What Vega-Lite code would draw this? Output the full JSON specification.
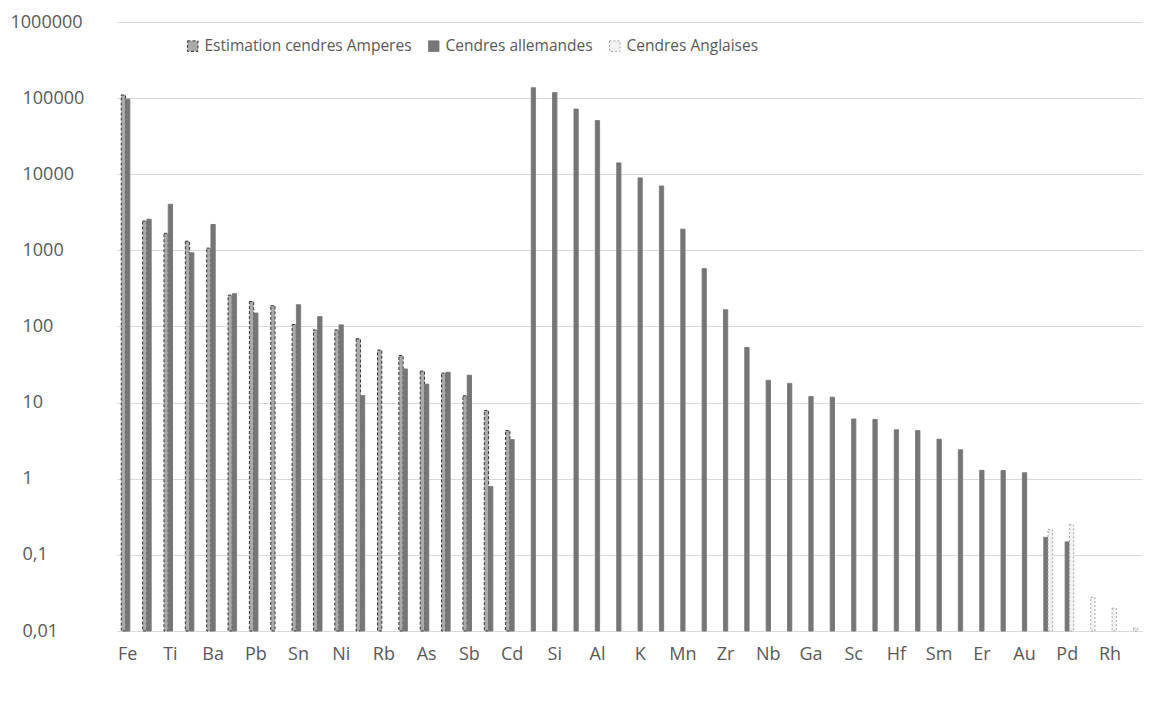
{
  "$schema": "https://vega.github.io/schema/vega-lite/v6.json",
  "width": 1025,
  "height": 609,
  "autosize": "none",
  "padding": {"left": 117, "top": 22, "right": 13, "bottom": 80},
  "background": "white",
  "config": {"view": {"stroke": null}, "font": "Open Sans"},
  "data": {"values": [
    {"el": "Fe", "s": "Estimation cendres Amperes", "v": 110000},
    {"el": "Fe", "s": "Cendres allemandes", "v": 97000},
    {"el": "Zn", "s": "Estimation cendres Amperes", "v": 2430},
    {"el": "Zn", "s": "Cendres allemandes", "v": 2570},
    {"el": "Ti", "s": "Estimation cendres Amperes", "v": 1675},
    {"el": "Ti", "s": "Cendres allemandes", "v": 4030},
    {"el": "Cu", "s": "Estimation cendres Amperes", "v": 1320},
    {"el": "Cu", "s": "Cendres allemandes", "v": 930},
    {"el": "Ba", "s": "Estimation cendres Amperes", "v": 1070},
    {"el": "Ba", "s": "Cendres allemandes", "v": 2190},
    {"el": "Cr", "s": "Estimation cendres Amperes", "v": 258},
    {"el": "Cr", "s": "Cendres allemandes", "v": 270},
    {"el": "Pb", "s": "Estimation cendres Amperes", "v": 213},
    {"el": "Pb", "s": "Cendres allemandes", "v": 150},
    {"el": "Sr", "s": "Estimation cendres Amperes", "v": 188},
    {"el": "Sn", "s": "Estimation cendres Amperes", "v": 106},
    {"el": "Sn", "s": "Cendres allemandes", "v": 193},
    {"el": "V", "s": "Estimation cendres Amperes", "v": 90},
    {"el": "V", "s": "Cendres allemandes", "v": 135},
    {"el": "Ni", "s": "Estimation cendres Amperes", "v": 90},
    {"el": "Ni", "s": "Cendres allemandes", "v": 105},
    {"el": "Co", "s": "Estimation cendres Amperes", "v": 69},
    {"el": "Co", "s": "Cendres allemandes", "v": 12.4},
    {"el": "Rb", "s": "Estimation cendres Amperes", "v": 49},
    {"el": "Li", "s": "Estimation cendres Amperes", "v": 41.5},
    {"el": "Li", "s": "Cendres allemandes", "v": 27.7},
    {"el": "As", "s": "Estimation cendres Amperes", "v": 26},
    {"el": "As", "s": "Cendres allemandes", "v": 17.5},
    {"el": "W", "s": "Estimation cendres Amperes", "v": 24.4},
    {"el": "W", "s": "Cendres allemandes", "v": 25},
    {"el": "Sb", "s": "Estimation cendres Amperes", "v": 12.3},
    {"el": "Sb", "s": "Cendres allemandes", "v": 22.9},
    {"el": "Ag", "s": "Estimation cendres Amperes", "v": 7.9},
    {"el": "Ag", "s": "Cendres allemandes", "v": 0.79},
    {"el": "Cd", "s": "Estimation cendres Amperes", "v": 4.3},
    {"el": "Cd", "s": "Cendres allemandes", "v": 3.26},
    {"el": "Ca", "s": "Cendres allemandes", "v": 137000},
    {"el": "Si", "s": "Cendres allemandes", "v": 118600},
    {"el": "Na", "s": "Cendres allemandes", "v": 71700},
    {"el": "Al", "s": "Cendres allemandes", "v": 50700},
    {"el": "Mg", "s": "Cendres allemandes", "v": 14100},
    {"el": "K", "s": "Cendres allemandes", "v": 8950},
    {"el": "P", "s": "Cendres allemandes", "v": 7010},
    {"el": "Mn", "s": "Cendres allemandes", "v": 1900},
    {"el": "Ce", "s": "Cendres allemandes", "v": 575},
    {"el": "Zr", "s": "Cendres allemandes", "v": 166},
    {"el": "La", "s": "Cendres allemandes", "v": 53},
    {"el": "Nb", "s": "Cendres allemandes", "v": 19.6},
    {"el": "Nd", "s": "Cendres allemandes", "v": 17.9},
    {"el": "Ga", "s": "Cendres allemandes", "v": 12},
    {"el": "Y", "s": "Cendres allemandes", "v": 11.8},
    {"el": "Sc", "s": "Cendres allemandes", "v": 6.1},
    {"el": "Th", "s": "Cendres allemandes", "v": 6.0},
    {"el": "Hf", "s": "Cendres allemandes", "v": 4.4},
    {"el": "Ta", "s": "Cendres allemandes", "v": 4.3},
    {"el": "Sm", "s": "Cendres allemandes", "v": 3.3},
    {"el": "U", "s": "Cendres allemandes", "v": 2.4},
    {"el": "Er", "s": "Cendres allemandes", "v": 1.29},
    {"el": "Ho", "s": "Cendres allemandes", "v": 1.28},
    {"el": "Au", "s": "Cendres allemandes", "v": 1.2},
    {"el": "Pt", "s": "Cendres allemandes", "v": 0.17},
    {"el": "Pt", "s": "Cendres Anglaises", "v": 0.215},
    {"el": "Pd", "s": "Cendres allemandes", "v": 0.148},
    {"el": "Pd", "s": "Cendres Anglaises", "v": 0.25},
    {"el": "Ir", "s": "Cendres Anglaises", "v": 0.0277},
    {"el": "Rh", "s": "Cendres Anglaises", "v": 0.0199},
    {"el": "Ru", "s": "Cendres Anglaises", "v": 0.0109}
  ]},
  "mark": {"type": "bar", "strokeWidth": 1},
  "encoding": {
    "x": {
      "field": "el", "type": "nominal", "sort": null,
      "scale": {"paddingInner": 0.4, "paddingOuter": 0.2},
      "axis": {
        "title": null,
        "values": ["Fe","Ti","Ba","Pb","Sn","Ni","Rb","As","Sb","Cd","Si","Al","K","Mn","Zr","Nb","Ga","Sc","Hf","Sm","Er","Au","Pd","Rh"],
        "labelAngle": 0, "ticks": false, "domainColor": "#d9d9d9", "domainWidth": 1,
        "labelColor": "#595959", "labelFontSize": 18, "labelPadding": 14, "grid": false
      }
    },
    "xOffset": {
      "field": "s", "type": "nominal",
      "scale": {"domain": ["Estimation cendres Amperes", "Cendres allemandes", "Cendres Anglaises"]}
    },
    "y": {
      "field": "v", "type": "quantitative",
      "scale": {"type": "log", "domain": [0.01, 1000000]},
      "axis": {
        "title": null,
        "values": [0.01, 0.1, 1, 10, 100, 1000, 10000, 100000, 1000000],
        "labelExpr": "replace(toString(datum.value), '.', ',')",
        "domain": false, "ticks": false, "grid": true, "gridColor": "#d9d9d9", "gridWidth": 1,
        "labelAlign": "left", "labelBaseline": "middle",
        "labelPadding": {"condition": {"test": "datum.value == 1000000", "value": 107}, "value": 95},
        "labelColor": "#595959", "labelFontSize": 18
      }
    },
    "y2": {"datum": 0.01},
    "fill": {
      "field": "s", "type": "nominal", "title": null,
      "scale": {"domain": ["Estimation cendres Amperes", "Cendres allemandes", "Cendres Anglaises"], "range": ["#aaaaaa", "#767676", "#f2f2f2"]},
      "legend": {
        "orient": "none", "legendX": 68, "legendY": 16, "direction": "horizontal",
        "title": null, "labelFontSize": 15.5, "labelLimit": 400, "labelColor": "#595959", "symbolType": "square",
        "symbolSize": 110, "columnPadding": 14, "symbolStrokeWidth": 1
      }
    },
    "stroke": {
      "field": "s", "type": "nominal", "title": null,
      "scale": {"domain": ["Estimation cendres Amperes", "Cendres allemandes", "Cendres Anglaises"], "range": ["#333333", "#767676", "#a6a6a6"]}
    },
    "strokeDash": {
      "field": "s", "type": "nominal", "title": null,
      "scale": {"domain": ["Estimation cendres Amperes", "Cendres allemandes", "Cendres Anglaises"], "range": [[3, 2], [1, 0], [2, 2]]}
    }
  }
}
